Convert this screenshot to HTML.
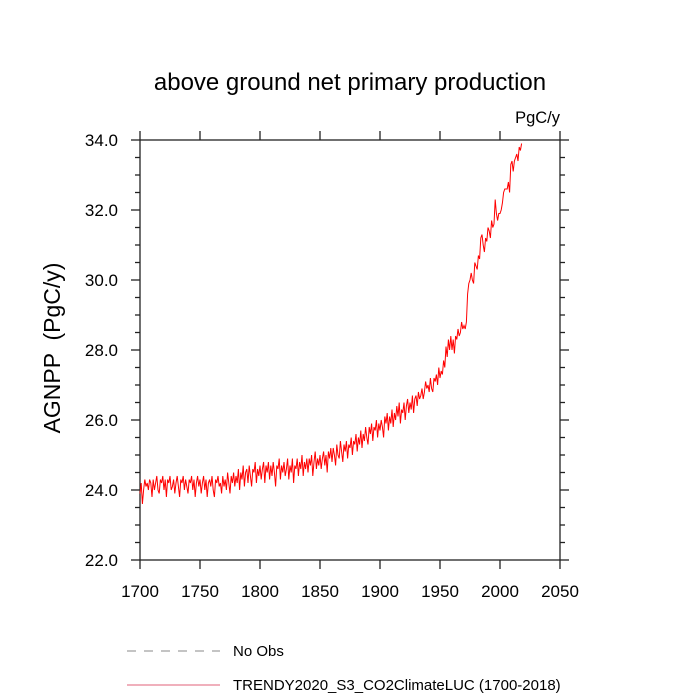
<!DOCTYPE html>
<html><head><meta charset="utf-8"><style>
html,body{margin:0;padding:0;background:#fff;}
svg{display:block;font-family:"Liberation Sans",sans-serif;}
</style></head><body>
<svg id="chart" width="700" height="700" viewBox="0 0 700 700">
<text x="350" y="90" text-anchor="middle" font-size="24">above ground net primary production</text>
<text x="560" y="123" text-anchor="end" font-size="16.5">PgC/y</text>
<text transform="translate(60,348) rotate(-90)" text-anchor="middle" font-size="23" style="white-space:pre">AGNPP  (PgC/y)</text>
<g id="axes"></g>
<g id="series"></g>
<g>
<line x1="127" y1="651" x2="220" y2="651" stroke="#888" stroke-width="1" stroke-dasharray="9,8"/>
<text x="233" y="656" font-size="15">No Obs</text>
<line x1="127" y1="685" x2="220" y2="685" stroke="#e0607a" stroke-width="1"/>
<text x="233" y="690" font-size="15">TRENDY2020_S3_CO2ClimateLUC (1700-2018)</text>
</g>
</svg>
<script>
const startYear = 1700;
const xTicks = [1700,1750,1800,1850,1900,1950,2000,2050];
const yTicks = [22.0,24.0,26.0,28.0,30.0,32.0,34.0];
const agnpp = [
23.9,24.2,23.6,24.0,24.3,24.1,24.2,24.0,24.3,24.2,
23.8,24.3,24.0,24.2,24.4,24.0,23.9,24.3,24.2,24.4,
24.0,24.3,23.8,24.3,24.2,24.4,24.0,24.1,24.3,23.9,
24.2,24.4,24.1,23.8,24.3,24.2,24.4,24.0,24.3,24.1,
23.9,24.3,24.2,24.4,24.0,24.3,23.8,24.2,24.4,24.1,
24.3,23.9,24.2,24.4,24.0,24.3,23.8,24.2,24.3,24.1,
24.4,24.0,23.8,24.3,24.2,24.4,24.1,24.2,23.9,24.4,
24.1,24.3,24.0,24.5,24.2,23.9,24.4,24.2,24.5,24.1,
24.4,24.2,24.6,24.0,24.5,24.3,24.7,24.1,24.5,24.6,
24.2,24.7,24.4,24.1,24.6,24.5,24.8,24.2,24.6,24.4,
24.7,24.3,24.6,24.8,24.2,24.7,24.5,24.8,24.3,24.7,
24.4,24.8,24.5,24.1,24.7,24.6,24.9,24.3,24.7,24.5,
24.8,24.4,24.6,24.9,24.3,24.7,24.5,24.9,24.2,24.7,
24.6,24.9,24.4,24.8,24.6,25.0,24.4,24.8,24.6,24.9,
24.5,24.9,24.7,25.0,24.4,24.8,25.1,24.6,24.9,24.7,
25.0,24.6,24.9,25.1,24.7,25.0,24.5,25.1,24.9,25.2,
24.8,25.2,25.0,24.7,25.3,25.0,24.9,25.4,25.1,24.8,
25.3,25.1,25.4,24.9,25.3,25.2,25.5,25.0,25.4,25.3,
25.6,25.1,25.5,25.3,25.7,25.2,25.6,25.4,25.8,25.5,
25.3,25.8,25.6,25.9,25.4,25.8,25.7,26.0,25.5,25.9,
25.7,26.0,25.8,25.5,26.1,25.9,26.2,25.7,26.1,25.9,
26.3,25.8,26.2,26.0,26.4,26.1,26.5,25.9,26.3,26.2,
26.5,26.0,26.4,26.6,26.2,26.5,26.3,26.7,26.2,26.6,
26.7,26.4,26.8,26.6,26.7,26.9,26.6,26.8,27.1,26.9,
27.0,26.8,27.2,26.9,26.8,27.2,27.1,27.3,27.0,27.5,
27.2,27.4,27.3,27.7,27.5,28.1,27.8,28.3,28.0,28.4,
28.0,28.3,27.9,28.4,28.3,28.6,28.4,28.5,28.8,28.6,
28.7,28.6,28.8,29.6,29.9,30.0,30.2,30.0,29.9,30.5,
30.4,30.3,30.7,30.6,31.2,31.3,31.0,30.8,31.2,31.1,
31.5,31.4,31.2,31.7,31.5,31.6,32.3,31.9,31.7,31.9,
31.9,32.0,32.2,32.5,32.6,32.6,32.6,32.8,32.5,33.3,
33.4,33.1,33.4,33.5,33.6,33.4,33.8,33.7,33.9
];
const NS='http://www.w3.org/2000/svg';
const L=140,R=560,T=140,B=560;
const xs=v=>L+(v-1700)/(2050-1700)*(R-L);
const ys=v=>B-(v-22)/(34-22)*(B-T);
const axes=document.getElementById('axes');
function mk(tag,attrs,parent){const e=document.createElementNS(NS,tag);for(const k in attrs)e.setAttribute(k,attrs[k]);parent.appendChild(e);return e;}
const frame=mk('rect',{x:L,y:T,width:R-L,height:B-T,fill:'none',stroke:'#222','stroke-width':1.3},axes);


xTicks.forEach(t=>{const x=xs(t);
 const a=mk('line',{x1:x,y1:B,x2:x,y2:B+9,stroke:'#222','stroke-width':1.3},axes);
 
 
 const b=mk('line',{x1:x,y1:T,x2:x,y2:T-9,stroke:'#222','stroke-width':1.3},axes);
 
 
 const tx=mk('text',{x:x,y:B+37,'text-anchor':'middle','font-size':17},axes);tx.textContent=t;
 
 
});
for(let v=22;v<=34.001;v+=0.5){const y=ys(v);const major=Math.abs(v-Math.round(v/2)*2)<1e-6;const len=major?9:5;
 const a=mk('line',{x1:L,y1:y,x2:L-len,y2:y,stroke:'#222','stroke-width':1.3},axes);
 
 
 const b=mk('line',{x1:R,y1:y,x2:R+len,y2:y,stroke:'#222','stroke-width':1.3},axes);
 
 
}
yTicks.forEach(t=>{const tx=mk('text',{x:L-22,y:ys(t)+6,'text-anchor':'end','font-size':17},axes);tx.textContent=t.toFixed(1);
 
 
});
const pts=agnpp.map((v,i)=>xs(startYear+i).toFixed(2)+','+ys(v).toFixed(2)).join(' ');
const line=mk('polyline',{points:pts,fill:'none',stroke:'#ff0000','stroke-width':1},document.getElementById('series'));


</script>
</body></html>
